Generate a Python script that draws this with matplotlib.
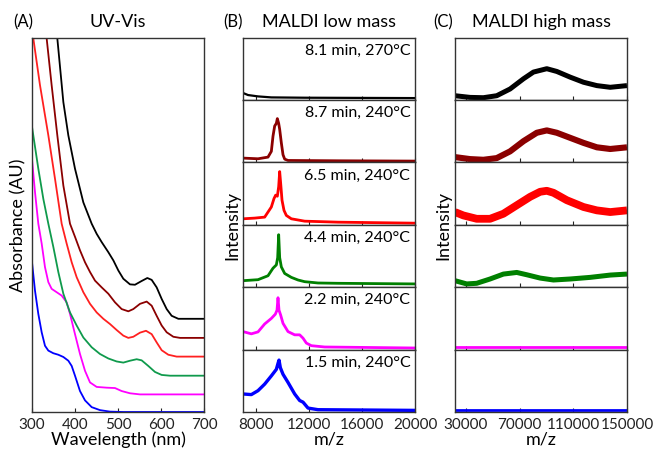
import matplotlib
matplotlib.use("Agg")
import matplotlib.pyplot as plt

plt.rcParams['font.family'] = ['Lato', 'DejaVu Sans']

# ---- (A) UV-Vis, absorbance in axes units (offset traces) ----
uv_blue_x = [300, 307, 314.7, 322.5, 330.2, 338, 349.6, 361.2, 372.9, 384.5, 392.3, 400, 411.6, 423.3,
             438.8, 458.1, 481.4, 512.4, 700]
uv_blue_y = [0.400, 0.324, 0.262, 0.213, 0.177, 0.164, 0.157, 0.153, 0.147, 0.137, 0.123, 0.097, 0.056,
             0.031, 0.013, 0.005, 0.001, 0.0, 0.0]

uv_mag_x = [300, 307, 314.7, 322.5, 330.2, 338, 345.7, 357.4, 369, 380.6, 388.4, 400, 411.6, 423.3, 434.9,
            450.4, 473.6, 493, 508.5, 527.9, 551.2, 700]
uv_mag_y = [0.675, 0.587, 0.503, 0.450, 0.387, 0.347, 0.329, 0.320, 0.311, 0.293, 0.262, 0.208, 0.155,
            0.110, 0.079, 0.067, 0.065, 0.064, 0.056, 0.050, 0.047, 0.047]

uv_green_x = [300, 314.7, 326.4, 338, 349.6, 361.2, 372.9, 388.4, 403.9, 419.4, 438.8, 458.1, 477.5,
              496.9, 512.4, 527.9, 543.4, 555, 570.5, 586, 601.6, 621, 700]
uv_green_y = [0.762, 0.650, 0.569, 0.503, 0.441, 0.374, 0.316, 0.266, 0.231, 0.199, 0.173, 0.155, 0.143,
              0.135, 0.132, 0.137, 0.141, 0.138, 0.123, 0.107, 0.099, 0.097, 0.097]

uv_red_x = [303.1, 318.6, 338, 353.5, 369, 380.6, 392.3, 403.9, 419.4, 434.9, 450.4, 465.9, 481.4, 496.9,
            512.4, 524, 535.6, 551.2, 565.1, 578.3, 589.9, 601.6, 617, 636.4, 700]
uv_red_y = [0.998, 0.873, 0.739, 0.623, 0.503, 0.450, 0.400, 0.360, 0.320, 0.289, 0.266, 0.249, 0.235,
            0.219, 0.204, 0.198, 0.201, 0.212, 0.217, 0.208, 0.186, 0.165, 0.153, 0.148, 0.148]

uv_dred_x = [334.1, 345.7, 358.9, 372.9, 388.4, 400, 411.6, 423.3, 434.9, 446.5, 462, 477.5, 493, 508.5,
             524, 535.6, 551.2, 566.7, 578.3, 589.9, 601.6, 613.2, 628.7, 644.2, 700]
uv_dred_y = [0.998, 0.873, 0.739, 0.605, 0.503, 0.468, 0.432, 0.400, 0.374, 0.351, 0.333, 0.316, 0.293,
             0.275, 0.269, 0.275, 0.289, 0.295, 0.284, 0.257, 0.231, 0.213, 0.201, 0.198, 0.198]

uv_black_x = [358.9, 372.9, 384.5, 400, 419.4, 438.8, 450.4, 462, 477.5, 489.2, 500.8, 512.4, 527.9, 539.5,
              555, 568.2, 578.3, 589.9, 601.6, 613.2, 624.8, 640.3, 700]
uv_black_y = [0.998, 0.828, 0.739, 0.650, 0.560, 0.503, 0.476, 0.454, 0.427, 0.405, 0.378, 0.356, 0.341,
              0.340, 0.350, 0.358, 0.353, 0.333, 0.302, 0.275, 0.257, 0.249, 0.249]

# ---- (B) MALDI low mass, intensity as fraction of each strip ----
low_labels = ['8.1 min, 270°C', '8.7 min, 240°C', '6.5 min, 240°C',
              '4.4 min, 240°C', '2.2 min, 240°C', '1.5 min, 240°C']

low_x = [
    [7000, 7377, 8131, 9136, 11648, 19940],
    [7000, 8131, 8884, 9136, 9261, 9387, 9513, 9588, 9688, 9764, 9889, 10015, 10141, 10392, 14161, 19940],
    [7000, 7879, 8633, 9136, 9337, 9462, 9588, 9688, 9764, 9839, 9940, 10090, 10266, 10643, 11648, 14161, 19940],
    [7000, 8131, 8884, 9261, 9513, 9613, 9688, 9764, 9889, 10141, 10643, 11146, 11648, 12653, 14161, 19940],
    [7000, 7628, 8131, 8633, 9136, 9437, 9563, 9638, 9714, 9839, 10015, 10392, 10894, 11271, 11523, 11774,
     12151, 13156, 19940],
    [7000, 7628, 8131, 8633, 9136, 9513, 9638, 9714, 9814, 10015, 10392, 10894, 11271, 11523, 11899, 12653, 19940],
]
low_y = [
    [0.114, 0.081, 0.059, 0.043, 0.038, 0.032],
    [0.070, 0.059, 0.086, 0.178, 0.422, 0.584, 0.627, 0.703, 0.627, 0.530, 0.314, 0.124, 0.054, 0.032, 0.027, 0.022],
    [0.097, 0.108, 0.124, 0.286, 0.422, 0.476, 0.459, 0.611, 0.854, 0.665, 0.395, 0.232, 0.151, 0.097, 0.059,
     0.043, 0.027],
    [0.105, 0.121, 0.184, 0.305, 0.358, 0.474, 0.842, 0.474, 0.326, 0.221, 0.158, 0.116, 0.089, 0.068, 0.063, 0.053],
    [0.289, 0.253, 0.284, 0.411, 0.500, 0.568, 0.632, 0.832, 0.632, 0.553, 0.421, 0.289, 0.237, 0.237, 0.184,
     0.105, 0.063, 0.042, 0.026],
    [0.289, 0.279, 0.342, 0.447, 0.579, 0.684, 0.779, 0.832, 0.711, 0.605, 0.474, 0.289, 0.184, 0.158, 0.063,
     0.037, 0.026],
]

# ---- (C) MALDI high mass ----
high_x = [
    [22000, 33178, 43114, 53050, 62986, 72922, 80374, 90310, 97762, 107698, 117634, 127570, 137506, 150000],
    [22000, 33178, 43114, 53050, 62986, 72922, 82858, 90310, 97762, 107698, 117634, 127570, 137506, 150000],
    [22000, 28210, 38146, 48082, 58018, 67954, 77890, 85342, 90310, 95278, 105214, 117634, 127570, 137506, 150000],
    [22000, 30694, 38146, 48082, 58018, 67954, 75406, 85342, 95278, 107698, 122602, 137506, 150000],
    [22000, 150000],
    [22000, 150000],
]
high_y = [
    [0.070, 0.043, 0.038, 0.070, 0.178, 0.341, 0.449, 0.503, 0.459, 0.368, 0.286, 0.232, 0.205, 0.232],
    [0.086, 0.054, 0.043, 0.070, 0.178, 0.341, 0.476, 0.514, 0.476, 0.395, 0.314, 0.243, 0.216, 0.243],
    [0.205, 0.151, 0.097, 0.097, 0.178, 0.314, 0.449, 0.530, 0.546, 0.514, 0.395, 0.286, 0.232, 0.205, 0.232],
    [0.105, 0.053, 0.063, 0.132, 0.211, 0.237, 0.200, 0.147, 0.116, 0.132, 0.158, 0.195, 0.211],
    [0.040, 0.040],
    [0.030, 0.030],
]

colors = ['black', '#8b0000', '#ff0000', '#008000', '#ff00ff', '#0000ff']
uv_colors = ['#0000ff', '#ff00ff', '#0f9a4c', '#ff2020', '#8b0000', 'black']
low_lw = [1.6, 2.0, 2.0, 2.0, 2.0, 2.4]
high_lw = [3.6, 4.4, 5.6, 3.6, 2.0, 2.0]

W, H = 654, 451
fig = plt.figure(figsize=(W / 100, H / 100), dpi=100)
spine_col = '#333333'
TOP, BOT = 37.7, 412.0


def fx(px):
    return px / W


def fy(py):
    return 1 - py / H


def style(ax):
    for s in ax.spines.values():
        s.set_color(spine_col)
        s.set_linewidth(1.0)
    ax.tick_params(direction='in', length=3, labelsize=11, colors='#222222', pad=4)
    ax.set_yticks([])


# panel A
axA = fig.add_axes([fx(32), fy(BOT), fx(204 - 32), (BOT - TOP) / H])
uv = [(uv_blue_x, uv_blue_y), (uv_mag_x, uv_mag_y), (uv_green_x, uv_green_y),
      (uv_red_x, uv_red_y), (uv_dred_x, uv_dred_y), (uv_black_x, uv_black_y)]
for (x, y), c in zip(uv, uv_colors):
    axA.plot(x, y, color=c, lw=1.3, solid_joinstyle='round')
axA.set_xlim(300, 700)
axA.set_ylim(0, 1)
axA.set_xticks([300, 400, 500, 600, 700])
style(axA)
axA.set_xlabel('Wavelength (nm)', fontsize=13, labelpad=0)
axA.set_ylabel('Absorbance (AU)', fontsize=13, labelpad=4)

# panels B and C as six stacked strips each
strip_h = (BOT - TOP) / 6
for i in range(6):
    top = TOP + i * strip_h
    ab = fig.add_axes([fx(243), fy(top + strip_h), fx(415.5 - 243), strip_h / H])
    ac = fig.add_axes([fx(455), fy(top + strip_h), fx(627 - 455), strip_h / H])
    ab.plot(low_x[i], low_y[i], color=colors[i], lw=low_lw[i])
    ac.plot(high_x[i], high_y[i], color=colors[i], lw=high_lw[i], solid_capstyle='butt')
    ab.set_xlim(7000, 20000)
    ac.set_xlim(22000, 150000)
    for a in (ab, ac):
        a.set_ylim(0, 1)
        style(a)
    ab.set_xticks([8000, 12000, 16000, 20000])
    ac.set_xticks([30000, 70000, 110000, 150000])
    ab.text(0.97, 0.79, low_labels[i], transform=ab.transAxes, ha='right', va='center', fontsize=11.5)
    if i < 5:
        ab.tick_params(labelbottom=False)
        ac.tick_params(labelbottom=False)
    else:
        ab.set_xlabel('m/z', fontsize=13, labelpad=0)
        ac.set_xlabel('m/z', fontsize=13, labelpad=0)

fig.text(fx(232), fy(225), 'Intensity', rotation=90, ha='center', va='center', fontsize=13)
fig.text(fx(443), fy(225), 'Intensity', rotation=90, ha='center', va='center', fontsize=13)

# titles
for lab, lx, title, tx in [('(A)', 23, 'UV-Vis', 117.5), ('(B)', 233, 'MALDI low mass', 329),
                           ('(C)', 443, 'MALDI high mass', 541)]:
    fig.text(fx(lx), fy(22), lab, ha='center', va='center', fontsize=12)
    fig.text(fx(tx), fy(22), title, ha='center', va='center', fontsize=13)

fig.savefig('out.png', dpi=100)
